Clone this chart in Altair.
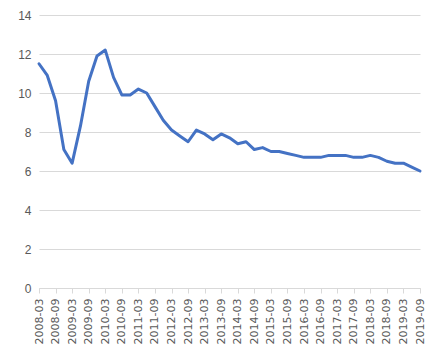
import altair as alt
import pandas as pd

quarters = [
    "2008-03", "2008-06", "2008-09", "2008-12",
    "2009-03", "2009-06", "2009-09", "2009-12",
    "2010-03", "2010-06", "2010-09", "2010-12",
    "2011-03", "2011-06", "2011-09", "2011-12",
    "2012-03", "2012-06", "2012-09", "2012-12",
    "2013-03", "2013-06", "2013-09", "2013-12",
    "2014-03", "2014-06", "2014-09", "2014-12",
    "2015-03", "2015-06", "2015-09", "2015-12",
    "2016-03", "2016-06", "2016-09", "2016-12",
    "2017-03", "2017-06", "2017-09", "2017-12",
    "2018-03", "2018-06", "2018-09", "2018-12",
    "2019-03", "2019-06", "2019-09",
]

values = [
    11.5, 10.9, 9.6, 7.1, 6.4, 8.3, 10.6, 11.9,
    12.2, 10.8, 9.9, 9.9, 10.2, 10.0, 9.3, 8.6,
    8.1, 7.8, 7.5, 8.1, 7.9, 7.6, 7.9, 7.7,
    7.4, 7.5, 7.1, 7.2, 7.0, 7.0, 6.9, 6.8,
    6.7, 6.7, 6.7, 6.8, 6.8, 6.8, 6.7, 6.7,
    6.8, 6.7, 6.5, 6.4, 6.4, 6.2, 6.0,
]

tick_labels = [
    "2008-03", "2008-09", "2009-03", "2009-09", "2010-03", "2010-09",
    "2011-03", "2011-09", "2012-03", "2012-09", "2013-03", "2013-09",
    "2014-03", "2014-09", "2015-03", "2015-09", "2016-03", "2016-09",
    "2017-03", "2017-09", "2018-03", "2018-09", "2019-03", "2019-09",
]

y_ticks = [0, 2, 4, 6, 8, 10, 12, 14]

df = pd.DataFrame({"quarter": quarters, "value": values})

chart = (
    alt.Chart(df)
    .mark_line(color="#4472C4", strokeWidth=3, strokeJoin="round", strokeCap="round")
    .encode(
        x=alt.X(
            "quarter:O",
            sort=quarters,
            scale=alt.Scale(type="point", padding=0, domain=quarters),
            axis=alt.Axis(
                values=tick_labels,
                labelAngle=270,
                title=None,
                grid=False,
                domainColor="#d9d9d9",
                tickColor="#d9d9d9",
                tickSize=5,
                labelPadding=5,
                labelFont="DejaVu Sans",
                labelFontSize=11,
                labelColor="#595959",
                labelOverlap=False,
            ),
        ),
        y=alt.Y(
            "value:Q",
            scale=alt.Scale(domain=[0, 14], nice=False),
            axis=alt.Axis(
                values=y_ticks,
                title=None,
                domain=False,
                ticks=False,
                gridColor="#d9d9d9",
                labelPadding=8,
                labelFont="Liberation Sans",
                labelFontSize=12,
                labelColor="#595959",
            ),
        ),
    )
    .properties(
        width=381,
        height=273,
        padding={"left": 31, "top": 7, "right": 8, "bottom": 58},
        autosize=alt.AutoSizeParams(type="none"),
        background="white",
    )
    .configure_view(stroke=None)
)

chart.save("out.html", embed_options={"renderer": "svg", "actions": False})
